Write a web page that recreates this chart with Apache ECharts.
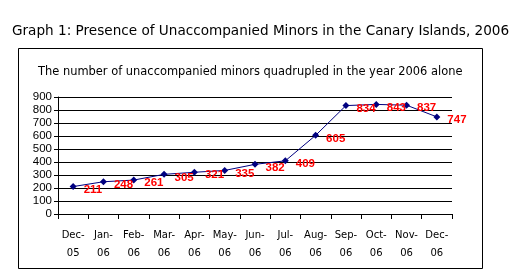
<!DOCTYPE html>
<html><head><meta charset="utf-8">
<script src="https://cdn.jsdelivr.net/npm/echarts@6/dist/echarts.min.js"></script>
<style>html,body{margin:0;padding:0;background:#fff}#c{width:520px;height:278px}</style>
</head><body><div id="c"></div>
<script>
const categories = ['Dec-\n05','Jan-\n06','Feb-\n06','Mar-\n06','Apr-\n06','May-\n06','Jun-\n06','Jul-\n06','Aug-\n06','Sep-\n06','Oct-\n06','Nov-\n06','Dec-\n06'];
const minors = [211,248,261,305,321,335,382,409,605,834,843,837,747];
const yTicks = [0,100,200,300,400,500,600,700,800,900];

const chart = echarts.init(document.getElementById('c'), null, {renderer:'canvas'});
chart.setOption({
  animation:false,
  backgroundColor:'#fff',
  title:[
    {text:'Graph 1: Presence of Unaccompanied Minors in the Canary Islands, 2006', left:7, top:19, padding:5,
     textStyle:{fontFamily:'DejaVu Sans', fontSize:13.6, fontWeight:'normal', color:'#000'}},
    {text:'The number of unaccompanied minors quadrupled in the year 2006 alone', left:33, top:62, padding:5,
     textStyle:{fontFamily:'DejaVu Sans', fontSize:11.45, fontWeight:'normal', color:'#000'}}
  ],
  graphic:[{type:'rect', shape:{x:18.5,y:48.5,width:464,height:220}, style:{fill:null, stroke:'#000', lineWidth:1}, silent:true}],
  grid:{left:58, right:68, top:97, bottom:64},
  xAxis:{type:'category', data:categories, boundaryGap:true,
    axisLine:{lineStyle:{color:'#000', width:1}},
    axisTick:{show:true, inside:false, length:5, alignWithLabel:false, lineStyle:{color:'#000'}},
    axisLabel:{fontFamily:'DejaVu Sans', fontSize:10, color:'#000', lineHeight:18, margin:12, interval:0}
  },
  yAxis:{type:'value', min:0, max:900, interval:100,
    axisLine:{show:true, lineStyle:{color:'#000'}},
    axisTick:{show:true, length:4, lineStyle:{color:'#000'}},
    splitLine:{lineStyle:{color:'#000', width:1}},
    axisLabel:{fontFamily:'Arial, Liberation Sans', fontSize:11.5, color:'#000', margin:6,
      formatter:v=>yTicks.includes(v)?String(v):''}
  },
  series:[{type:'line', data:minors, symbol:'diamond', symbolSize:7,
    lineStyle:{color:'#000080', width:1}, itemStyle:{color:'#000080'},
    label:{show:true, position:'right', distance:5, offset:[2,3], color:'#ff0000',
      fontFamily:'Arial, Liberation Sans', fontWeight:'bold', fontSize:11.5}
  }]
});
</script></body></html>
